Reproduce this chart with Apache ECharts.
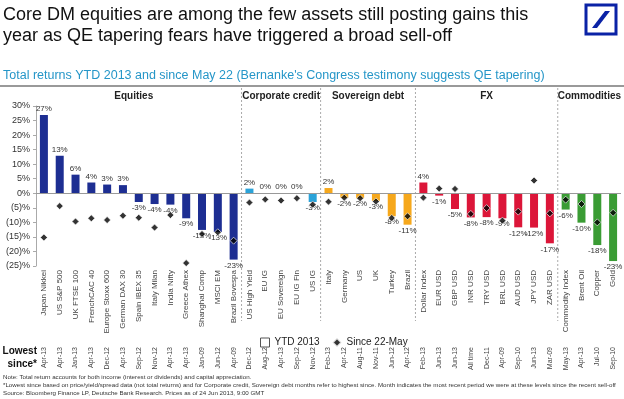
<!DOCTYPE html>
<html>
<head>
<meta charset="utf-8">
<script src="https://cdn.jsdelivr.net/npm/echarts@6/dist/echarts.min.js"></script>
<style>
  html, body { margin: 0; padding: 0; background: #fff; }
  #chart { width: 624px; height: 399px; }
</style>
</head>
<body>
<div id="chart"></div>
<script>
// 各板块数据（YTD 2013 / 5月22日以来）
const equitiesCats = ['Japan Nikkei', 'US S&P 500', 'UK FTSE 100', 'FrenchCAC 40', 'Europe Stoxx 600', 'German DAX 30', 'Spain IBEX 35', 'Italy Milan', 'India Nifty', 'Greece Athex', 'Shanghai Comp', 'MSCI EM', 'Brazil Bovespa'];
const equitiesYtd = [26.9, 12.9, 6.4, 3.7, 3.0, 2.8, -3.0, -3.7, -3.9, -8.6, -12.6, -13.3, -22.8];
const equitiesSince = [-15.2, -4.4, -9.7, -8.6, -9.2, -7.7, -8.4, -11.8, -7.5, -24.0, -14.0, -13.4, -16.3];

const creditCats = ['US High Yield', 'EU IG', 'EU Sovereign', 'EU IG Fin', 'US IG'];
const creditYtd = [1.6, 0, 0, 0, -3.0];
const creditSince = [-3.2, -2.1, -2.5, -1.7, -3.9];

const sovCats = ['Italy', 'Germany', 'US', 'UK', 'Turkey', 'Brazil'];
const sovYtd = [1.8, -1.6, -1.7, -2.6, -7.9, -10.8];
const sovSince = [-2.9, -1.5, -1.7, -2.8, -8.5, -7.9];

const fxCats = ['Dollar Index', 'EUR USD', 'GBP USD', 'INR USD', 'TRY USD', 'BRL USD', 'AUD USD', 'JPY USD', 'ZAR USD'];
const fxYtd = [3.7, -0.8, -5.4, -8.3, -8.2, -8.6, -11.7, -11.8, -17.2];
const fxSince = [-1.5, 1.6, 1.5, -7.1, -5.1, -9.4, -6.3, 4.4, -6.9];

const comCats = ['Commodity Index', 'Brent Oil', 'Copper', 'Gold'];
const comYtd = [-5.6, -10.1, -17.8, -23.3];
const comSince = [-2.2, -3.7, -10.0, -6.7];

// 最低点以来
const lowestSince = ['Apr-13', 'Apr-13', 'Jan-13', 'Apr-13', 'Dec-12', 'Apr-13', 'Sep-12', 'Nov-12', 'Apr-13', 'Apr-13', 'Jan-09', 'Jun-12', 'Apr-09',
  'Dec-12', 'Aug-12', 'Apr-13', 'Sep-12', 'Nov-12',
  'Feb-13', 'Apr-12', 'Aug-11', 'Nov-11', 'Jun-12', 'Apr-12',
  'Feb-13', 'Jun-13', 'Jun-13', 'All time', 'Dec-11', 'Apr-09', 'Sep-10', 'Jun-13', 'Mar-09',
  'May-13', 'Apr-13', 'Jul-10', 'Sep-10'];

const sections = [
  { name: 'Equities', cats: equitiesCats, ytd: equitiesYtd, since: equitiesSince, color: '#1d2e92' },
  { name: 'Corporate credit', cats: creditCats, ytd: creditYtd, since: creditSince, color: '#2ba3d9' },
  { name: 'Sovereign debt', cats: sovCats, ytd: sovYtd, since: sovSince, color: '#f6a81c' },
  { name: 'FX', cats: fxCats, ytd: fxYtd, since: fxSince, color: '#dc1639' },
  { name: 'Commodities', cats: comCats, ytd: comYtd, since: comSince, color: '#3a9c34' },
];

// 拼接
let cats = [], ytd = [], since = [], barColors = [];
sections.forEach((s) => {
  cats = cats.concat(s.cats);
  ytd = ytd.concat(s.ytd);
  since = since.concat(s.since);
  s.cats.forEach(() => barColors.push(s.color));
});

const font = 'Liberation Sans, Arial, sans-serif';

const option = {
  animation: false,
  textStyle: { fontFamily: font },
  legend: {
    left: 255,
    top: 332,
    itemWidth: 9,
    itemHeight: 9,
    itemGap: 12,
    textStyle: { fontSize: 10, color: '#222', fontFamily: font },
    data: [
      { name: 'YTD 2013', icon: 'rect', itemStyle: { color: '#fff', borderColor: '#555', borderWidth: 1 } },
      { name: 'Since 22-May', icon: 'diamond', itemStyle: { color: '#000' } },
    ],
  },
  grid: { left: 36, right: 3, top: 106, bottom: 133 },
  xAxis: [
    {
      type: 'category',
      data: cats,
      axisLine: { show: false },
      axisTick: { show: false },
      axisLabel: { rotate: 90, interval: 0, fontSize: 8, color: '#444', margin: 4 },
    },
    {
      type: 'category',
      data: cats,
      position: 'bottom',
      offset: 78,
      axisLine: { show: false },
      axisTick: { show: false },
      axisLabel: {
        rotate: 90, interval: 0, fontSize: 7, color: '#444', margin: 3,
        formatter: (v, i) => lowestSince[i],
      },
    },
  ],
  yAxis: {
    type: 'value',
    min: -25,
    max: 30,
    interval: 5,
    axisLine: { show: true, lineStyle: { color: '#aaa' } },
    axisTick: { show: true, length: 3, lineStyle: { color: '#aaa' } },
    splitLine: { show: false },
    axisLabel: {
      fontSize: 9, color: '#333', margin: 6,
      formatter: (v) => (v < 0 ? '(' + (-v) + ')%' : v + '%'),
    },
  },
  series: [
    {
      name: 'YTD 2013',
      type: 'bar',
      barWidth: 8,
      data: ytd.map((v) => ({ value: v, label: { position: v < 0 ? 'bottom' : 'top' } })),
      itemStyle: { color: (p) => barColors[p.dataIndex] },
      label: {
        show: true,
        fontSize: 8,
        color: '#333',
        distance: 2,
        formatter: (p) => Math.round(p.value) + '%',
      },
      markLine: {
        silent: true,
        symbol: 'none',
        label: { show: false },
        lineStyle: { color: '#999', width: 1, type: 'solid' },
        data: [{ yAxis: 0 }],
      },
    },
    {
      name: 'Since 22-May',
      type: 'scatter',
      symbol: 'diamond',
      symbolSize: 7,
      z: 5,
      itemStyle: { color: '#000', borderColor: '#fff', borderWidth: 0.8 },
      data: since,
    },
  ],
};

const chart = echarts.init(document.getElementById('chart'));
chart.setOption(option);

// 分隔线、板块标题、其他文字
const px = (i) => chart.convertToPixel({ xAxisIndex: 0 }, i);
const gridLeft = 36, gridRight = 624 - 3;
const graphics = [];
let start = 0;
let bounds = [gridLeft - 10];
sections.forEach((s) => {
  const end = start + s.cats.length;
  bounds.push(end < cats.length ? (px(end - 1) + px(end)) / 2 : gridRight);
  start = end;
});
for (let i = 1; i < bounds.length - 1; i++) {
  graphics.push({
    type: 'line',
    shape: { x1: bounds[i], y1: 88, x2: bounds[i], y2: 321 },
    style: { stroke: '#aaa', lineWidth: 1, lineDash: [2, 2] },
  });
}
sections.forEach((s, i) => {
  graphics.push({
    type: 'text',
    x: (bounds[i] + bounds[i + 1]) / 2,
    y: 96,
    style: { text: s.name, font: 'bold 10px ' + font, fill: '#222', textAlign: 'center', textVerticalAlign: 'middle' },
  });
});

graphics.push(
  {
    type: 'text', x: 3, y: 5,
    style: {
      text: 'Core DM equities are among the few assets still posting gains this\nyear as QE tapering fears have triggered a broad sell-off',
      font: '18px ' + font, fill: '#111', lineHeight: 21,
    },
  },
  {
    type: 'text', x: 3, y: 69,
    style: {
      text: "Total returns YTD 2013 and since May 22 (Bernanke's Congress testimony suggests QE tapering)",
      font: '12.5px ' + font, fill: '#2596c8',
    },
  },
  { type: 'line', shape: { x1: 0, y1: 86, x2: 624, y2: 86 }, style: { stroke: '#999', lineWidth: 2 } },
  { type: 'rect', shape: { x: 586, y: 5, width: 30, height: 29 }, style: { fill: 'none', stroke: '#0a22a6', lineWidth: 3 } },
  { type: 'polygon', shape: { points: [[592, 28], [597, 28], [610, 11], [605, 11]] }, style: { fill: '#0a22a6' } },
  {
    type: 'text', x: 37, y: 345,
    style: { text: 'Lowest\nsince*', font: 'bold 10px ' + font, fill: '#111', textAlign: 'right', lineHeight: 13 },
  },
  {
    type: 'text', x: 3, y: 373,
    style: {
      text: 'Note: Total return accounts for both income (interest or dividends) and capital appreciation.\n' +
        '*Lowest since based on price/yield/spread data (not total returns) and for Corporate credit, Sovereign debt months refer to highest since. Month indicates the most recent period we were at these levels since the recent sell-off\n' +
        'Source: Bloomberg Finance LP, Deutsche Bank Research. Prices as of 24 Jun 2013, 9:00 GMT',
      font: '6.2px ' + font, fill: '#333', lineHeight: 8,
    },
  }
);

chart.setOption({ graphic: graphics });

window.addEventListener('resize', () => chart.resize());
</script>
</body>
</html>
